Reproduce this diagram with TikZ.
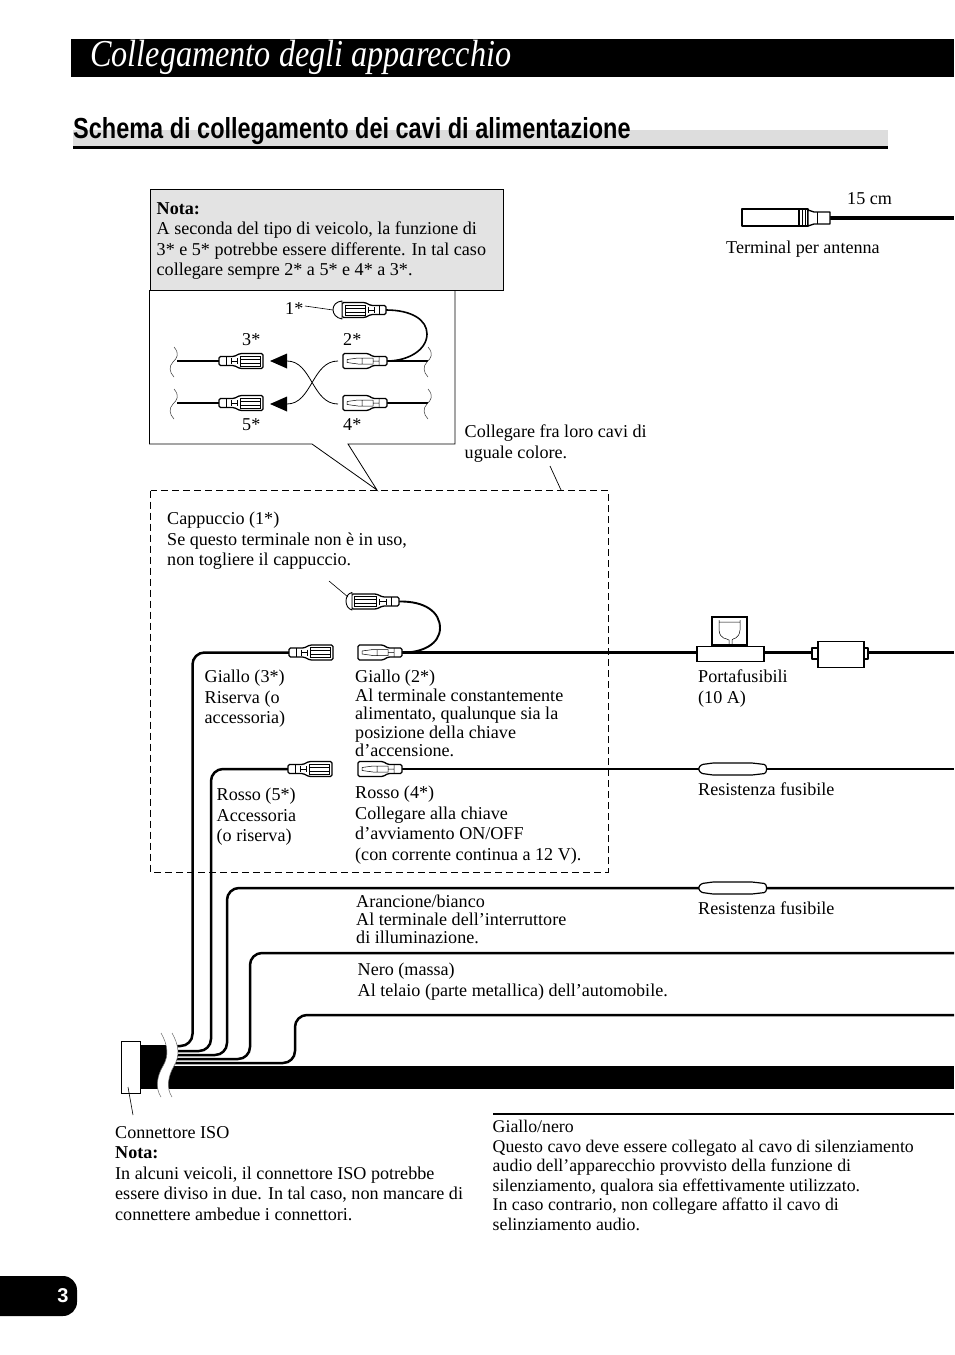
\documentclass[tikz,border=0pt]{standalone}
\usepackage{fontspec}
\setmainfont{Liberation Serif}
\newfontfamily\headfont{Liberation Sans}
\newcommand\mlsize{18.1}
\newcommand\ML[4][20.5]{\node[txt,font=\fontsize{\mlsize}{#1}\selectfont] (#2) at (#3) {\rule{0pt}{12pt}#4};}
\tikzset{
 x=1pt,y=-1pt,
 txt/.style={anchor=north west,inner sep=0pt,align=left,yshift=12pt},
 wire/.style={line width=2.5pt,line cap=butt},
 brk/.style={line width=.5pt},
 outl/.style={line width=1.3pt,fill=white,line join=round},
 inn/.style={line width=.5pt},
 plugf/.pic={
  \draw[outl,rounded corners=1.5pt] (0,-7.5) -- (25,-7.5) -- (30,-4.5) -- (44,-4.5) -- (44,4.5) -- (30,4.5) -- (25,7.5) -- (0,7.5) -- cycle;
  \draw[inn] (4,-1.5) -- (15,-3) -- (30,-3) -- (30,3) -- (15,3) -- (4,1.5) -- cycle (19,-3) -- (19,3) (30,0) -- (36,0) (36,-4.5) -- (36,4.5);
 },
 plugm/.pic={
  \draw[outl,rounded corners=1.5pt] (0,-4.5) -- (15,-4.5) -- (21,-7.5) -- (44,-7.5) -- (44,7.5) -- (21,7.5) -- (15,4.5) -- (0,4.5) -- cycle;
  \draw[inn] (7,-4.5) -- (7,4.5) (12,-3) -- (12,3) (18,-3) -- (18,3) (12,0) -- (18,0) (21,-5) -- (41,-5) -- (41,5) -- (21,5) -- cycle (21,-2) -- (41,-2) (21,2) -- (41,2);
 },
}
\begin{document}
\begin{tikzpicture}
\useasboundingbox (0,0) rectangle (954,1355);
% title band
\fill (71,39) rectangle (954,77);
\node[anchor=base west,inner sep=0pt,text=white,font=\fontsize{38}{38}\selectfont\itshape] (title) at (90,66) {\scalebox{.848}[1]{Collegamento degli apparecchio}};
% heading
\fill[gray!27] (73,130) rectangle (888,146);
\fill (73,146) rectangle (888,149);
\node[anchor=base west,inner sep=0pt,font=\fontsize{29}{29}\selectfont\headfont\bfseries] (head) at (73,138) {\scalebox{.81}[1]{Schema di collegamento dei cavi di alimentazione}};
% Antenna
\coordinate (antEnd) at (954,218);
\coordinate (antTip) at (830,218);
\draw[line width=4pt] (antTip) -- (antEnd);
\draw[outl] (742,209) rectangle (799,226);
\draw[outl] (799,209) rectangle (808,226);
\draw[inn] (802,209) -- (802,226) (805,209) -- (805,226);
\draw[outl] (808,210) -- (814,212) -- (830,212) -- (830,224) -- (814,224) -- (808,226) -- cycle;
\draw[inn] (817,212) -- (817,224);
\ML{l15}{847,204}{15 cm}
\ML{lant}{726,253}{Terminal per antenna}
% Inset box
\draw[line width=.8pt] (149.5,290) -- (149.5,444) -- (312,444) -- (377,490) -- (348,444) -- (455,444) -- (455,290);
\node[draw,line width=.8pt,fill=black!11,minimum width=353pt,minimum height=101pt,anchor=north west,inner sep=0pt] (nbox) at (149.8,188.8) {};
\ML{nota}{156.5,214}{\textbf{Nota:}\\A seconda del tipo di veicolo, la funzione di\\3* e 5* potrebbe essere differente. In tal caso\\collegare sempre 2* a 5* e 4* a 3*.}
% inset wires
\coordinate (iL3) at (177,361); \coordinate (iL5) at (177,403);
\coordinate (i3) at (219,361); \coordinate (i5) at (219,403);
\coordinate (i2) at (343,361); \coordinate (i4) at (343,403);
\coordinate (i2e) at (387,361); \coordinate (i4e) at (387,403);
\coordinate (iR2) at (428,361); \coordinate (iR4) at (428,403);
\coordinate (i1e) at (386,310);
\draw[wire] (iL3) -- (i3) (iL5) -- (i5) (i2e) -- (iR2) (i4e) -- (iR4);
\draw[line width=1.6pt] (i1e) .. controls (412,310) and (427,320) .. (427,334) .. controls (427,350) and (408,361) .. (i2e);
\foreach \xx in {174,428} \foreach \yy in {347,389}
 \draw[brk,black!80] (\xx,\yy) .. controls (\xx+6,\yy+7) and (\xx+3,\yy+11) .. (\xx-1,\yy+15) .. controls (\xx-5,\yy+19) and (\xx-5,\yy+25) .. (\xx,\yy+30);
\pic at (i3) {plugm};
\pic at (i5) {plugm};
\pic at (i2) {plugf};
\pic at (i4) {plugf};
\pic[xscale=-1] at (i1e) {plugm};
\draw[outl,line width=.9pt] (342,301) .. controls (330,302) and (330,317) .. (342,319) -- cycle;
\coordinate (a3tail) at (338,361); \coordinate (a5tail) at (338,404);
\coordinate (a3head) at (287,361); \coordinate (a5head) at (287,404);
\draw[line width=.8pt] (a3tail) .. controls (312,361) and (312,404) .. (a5head);
\draw[line width=.8pt] (a5tail) .. controls (312,404) and (312,361) .. (a3head);
\fill (270,361) -- (287,353.5) -- (287,368.5) -- cycle;
\fill (270,404) -- (287,396.5) -- (287,411.5) -- cycle;
\coordinate (i1l) at (305,306); \coordinate (i1c) at (333,310);
\draw[line width=.6pt] (i1l) -- (i1c);
\ML{n1}{285,314}{1*}\ML{n3}{242,345}{3*}\ML{n2}{343,345}{2*}\ML{n5}{242,430}{5*}\ML{n4}{343,430}{4*}
% leader
\ML{lcol}{464.5,437}{Collegare fra loro cavi di\\uguale colore.}
\coordinate (lc1) at (550,466); \coordinate (lc2) at (561,490);
\draw[line width=.7pt] (lc1) -- (lc2);
% dashed box
\draw[dashed,line width=.7pt,dash pattern=on 7pt off 4pt] (150.5,490.5) rectangle (608,872);
\ML{cap}{167,524}{Cappuccio (1*)\\Se questo terminale non è in uso,\\non togliere il cappuccio.}
% wires
\coordinate (p3) at (289,652.5); \coordinate (p5) at (288,769);
\coordinate (p2) at (358,652.5); \coordinate (p4) at (358,769);
\coordinate (p2e) at (402,652.5); \coordinate (p4e) at (402,769);
\coordinate (p1e) at (399,601.5);
\coordinate (r2) at (954,652.5); \coordinate (r4) at (954,769);
\coordinate (r3) at (954,888); \coordinate (r5) at (954,953); \coordinate (r6) at (954,1015);
\coordinate (e1) at (192.5,1046); \coordinate (b1) at (175,1046);
\coordinate (e2) at (211,1051); \coordinate (b2) at (175,1051);
\coordinate (e3) at (227,1055); \coordinate (b3) at (175,1055);
\coordinate (e4) at (250,1059); \coordinate (b4) at (175,1059);
\coordinate (e5) at (295,1063); \coordinate (b5) at (175,1063);
\begin{scope}[rounded corners=12pt]
\draw[wire] (p3) -| (e1) -- (b1);
\draw[wire] (p5) -| (e2) -- (b2);
\draw[wire] (r3) -| (e3) -- (b3);
\draw[wire] (r5) -| (e4) -- (b4);
\draw[wire] (r6) -| (e5) -- (b5);
\end{scope}
\draw[wire] (p2e) -- (r2);
\draw[wire] (p4e) -- (r4);
\draw[line width=1.9pt] (p1e) .. controls (425,601) and (440,612) .. (440,628) .. controls (440,644) and (422,653) .. (p2e);
\pic at (p3) {plugm};
\pic at (p5) {plugm};
\pic at (p2) {plugf};
\pic at (p4) {plugf};
\pic[xscale=-1.08] at (p1e) {plugm};
\draw[outl,line width=.9pt] (352,592.5) .. controls (344,594) and (344,608) .. (352,610) -- cycle;
\coordinate (cl1) at (329,581); \coordinate (cl2) at (348,597);
\draw[line width=.6pt] (cl1) -- (cl2);
% fuse holder
\draw[line width=1.2pt,fill=white] (712,617) rectangle (747,645);
\draw[inn] (719,620) -- (719,630) .. controls (720,640) and (727,638) .. (729,640) -- (729,645) (740,620) -- (740,630) .. controls (739,640) and (732,638) .. (732,640) -- (732,645) (719,622) -- (740,622);
\node[draw,line width=1.6pt,fill=white,minimum width=67pt,minimum height=15pt,inner sep=0pt,anchor=north west] (holder) at (696,645.5) {};
% fuse box
\draw[outl] (812,648) rectangle (868,659);
\node[draw,line width=1.6pt,fill=white,minimum width=46pt,minimum height=26pt,inner sep=0pt,anchor=north west] (fuse) at (817,640.5) {};
% resistors
\foreach \yy in {769,888}
 \draw[line width=1.2pt,fill=white,rounded corners=1pt] (699,\yy-2) -- (699,\yy+2) -- (702,\yy+4.5) -- (713,\yy+6) -- (752,\yy+6) -- (765,\yy+4.5) -- (766.5,\yy+2) -- (766.5,\yy-2) -- (765,\yy-4.5) -- (752,\yy-6) -- (713,\yy-6) -- (702,\yy-4.5) -- cycle;
\ML{lpf}{698,682}{Portafusibili\\(10 A)}
\ML{lr1}{698,795}{Resistenza fusibile}
\ML{lr2}{698,914}{Resistenza fusibile}
\ML{g3}{204.5,682}{Giallo (3*)\\Riserva (o\\accessoria)}
\ML[18.5]{g2}{355,682}{Giallo (2*)\\Al terminale constantemente\\alimentato, qualunque sia la\\posizione della chiave\\d’accensione.}
\ML{r5t}{216.5,800}{Rosso (5*)\\Accessoria\\(o riserva)}
\ML{r4t}{355,798}{Rosso (4*)\\Collegare alla chiave\\d’avviamento ON/OFF\\(con corrente continua a 12 V).}
\ML[18]{ar}{356,907}{Arancione/bianco\\Al terminale dell’interruttore\\di illuminazione.}
\ML{ne}{357.5,975}{Nero (massa)\\Al telaio (parte metallica) dell’automobile.}
% harness
\fill (166,1066) rectangle (954,1088.5);
\fill (140,1045) rectangle (168,1088.5);
\fill[white] (161,1033) .. controls (168,1045) and (169,1056) .. (163,1066) .. controls (157,1076) and (155,1088) .. (161,1097) -- (172,1097) .. controls (166,1088) and (168,1076) .. (174,1066) .. controls (180,1056) and (179,1045) .. (172,1033) -- cycle;
\draw[brk,black!60] (161,1033) .. controls (168,1045) and (169,1056) .. (163,1066) .. controls (157,1076) and (155,1088) .. (161,1097);
\draw[brk,black!60] (172,1033) .. controls (179,1045) and (180,1056) .. (174,1066) .. controls (168,1076) and (166,1088) .. (172,1097);
\node[draw,line width=.8pt,fill=white,minimum width=19pt,minimum height=52pt,inner sep=0pt,anchor=north west] (iso) at (121,1041) {};
\coordinate (isol) at (133,1115); \coordinate (isoi) at (128,1087);
\draw[line width=.6pt] (isoi) -- (isol);
\ML{isot}{115,1138}{Connettore ISO\\\textbf{Nota:}\\In alcuni veicoli, il connettore ISO potrebbe\\essere diviso in due. In tal caso, non mancare di\\connettere ambedue i connettori.}
% yellow black
\coordinate (yb1) at (493,1114); \coordinate (yb2) at (954,1114);
\draw[line width=1.8pt] (yb1) -- (yb2);
\begin{scope}
\renewcommand\mlsize{17.8}
\ML[19.5]{ybt}{492.5,1132}{Giallo/nero\\Questo cavo deve essere collegato al cavo di silenziamento\\audio dell’apparecchio provvisto della funzione di\\silenziamento, qualora sia effettivamente utilizzato.\\In caso contrario, non collegare affatto il cavo di\\selinziamento audio.}
\end{scope}
% page tab
\fill[rounded corners=14pt] (-20,1276) rectangle (77,1316);
\node[text=white,inner sep=0pt,font=\fontsize{20}{20}\selectfont\headfont\bfseries] (pg) at (63,1296) {3};
\end{tikzpicture}
\end{document}
